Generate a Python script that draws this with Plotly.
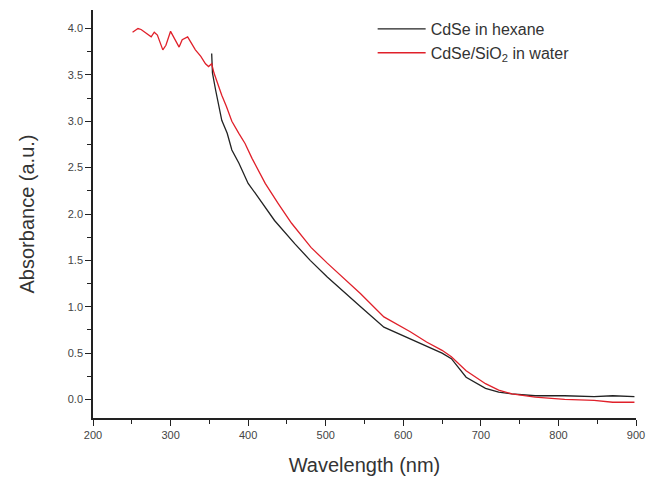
import plotly.graph_objects as go

# CdSe quantum dots dispersed in hexane
wl_hexane = [353, 354, 358, 362, 366, 373, 379, 388, 400, 413, 434, 460, 480, 502,
             520, 545, 575, 604, 630, 650, 662, 681, 706, 723, 740, 770, 808, 846, 870, 898]
abs_hexane = [3.73, 3.52, 3.34, 3.16, 3.01, 2.87, 2.69, 2.55, 2.33, 2.18, 1.93, 1.68, 1.50, 1.32,
              1.19, 1.00, 0.78, 0.67, 0.58, 0.50, 0.44, 0.24, 0.12, 0.08, 0.06, 0.04, 0.04, 0.03, 0.04, 0.03]

# Silica-coated CdSe dispersed in water
wl_water = [251, 258, 262, 268, 275, 279, 283, 290, 294, 300, 305, 311, 315, 322, 327, 332,
            339, 345, 349, 353, 356, 362, 366, 372, 379, 388, 396, 405, 422, 439, 456, 481,
            502, 545, 575, 609, 630, 650, 662, 681, 706, 723, 740, 770, 808, 846, 870, 898]
abs_water = [3.96, 4.00, 3.99, 3.95, 3.91, 3.96, 3.93, 3.77, 3.82, 3.97, 3.89, 3.80, 3.88, 3.91, 3.84, 3.77,
             3.70, 3.62, 3.59, 3.62, 3.52, 3.36, 3.28, 3.16, 3.00, 2.87, 2.76, 2.60, 2.33, 2.11, 1.90, 1.64,
             1.47, 1.14, 0.89, 0.73, 0.62, 0.53, 0.46, 0.31, 0.17, 0.10, 0.06, 0.025, 0.0, -0.01, -0.03, -0.03]

x_ticks = [200, 300, 400, 500, 600, 700, 800, 900]
y_ticks = [0.0, 0.5, 1.0, 1.5, 2.0, 2.5, 3.0, 3.5, 4.0]

fig = go.Figure()
fig.add_trace(go.Scatter(x=wl_hexane, y=abs_hexane, mode="lines",
                         name="CdSe in hexane", line=dict(color="#222222", width=1.3)))
fig.add_trace(go.Scatter(x=wl_water, y=abs_water, mode="lines",
                         name="CdSe/SiO<sub>2</sub> in water", line=dict(color="#e0202a", width=1.3)))

axis_common = dict(
    showline=True, linecolor="#222222", linewidth=1.5,
    ticks="outside", ticklen=6, tickwidth=1.3, tickcolor="#222222",
    showgrid=False, zeroline=False,
    tickfont=dict(family="Liberation Sans, Arial", size=11, color="#444444"),
    title_font=dict(family="Liberation Sans, Arial", size=20, color="#333333"),
)

fig.update_xaxes(
    range=[200, 900], tickvals=x_ticks, ticktext=[str(v) for v in x_ticks],
    minor=dict(dtick=50, ticks="outside", ticklen=4, tickwidth=1.2, tickcolor="#222222"),
    title_text="Wavelength (nm)", title_standoff=18,
    **axis_common,
)
fig.update_yaxes(
    range=[-0.2, 4.2], tickvals=y_ticks, ticktext=[f"{v:.1f}" for v in y_ticks],
    minor=dict(dtick=0.25, tick0=0, ticks="outside", ticklen=4, tickwidth=1.2, tickcolor="#222222"),
    title_text="Absorbance (a.u.)", title_standoff=28,
    **axis_common,
)

fig.update_layout(
    width=655, height=485,
    margin=dict(l=93, r=13, t=10, b=67),
    paper_bgcolor="white", plot_bgcolor="white",
    showlegend=True,
    legend=dict(x=0.515, y=0.995, xanchor="left", yanchor="top",
                bgcolor="rgba(0,0,0,0)", borderwidth=0,
                font=dict(family="Liberation Sans, Arial", size=16, color="#333333"),
                tracegroupgap=0, itemwidth=48),
)

fig.write_html("out.html")
